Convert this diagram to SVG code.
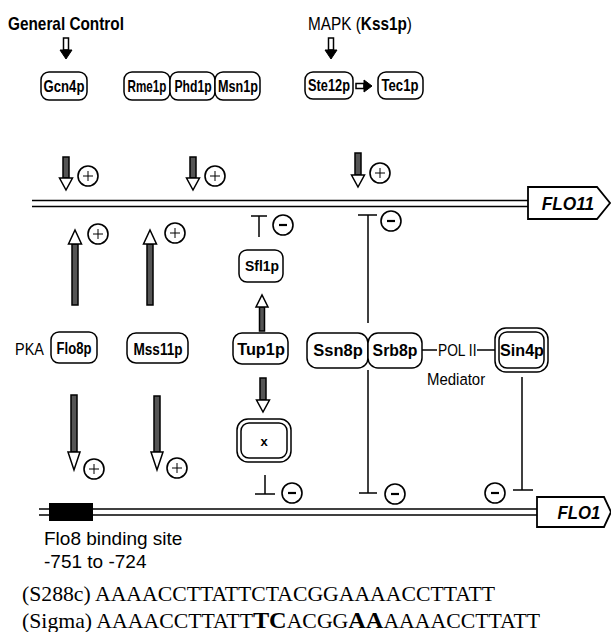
<svg xmlns="http://www.w3.org/2000/svg" width="611" height="632" viewBox="0 0 611 632">
<style>
.box{fill:#fff;stroke:#000;stroke-width:1.5}
.lbl{font-family:"Liberation Sans",Arial,sans-serif;font-size:16px;font-weight:bold;text-anchor:middle;fill:#000}
.txt{font-family:"Liberation Sans",Arial,sans-serif;font-size:17px;fill:#000}
.seq{font-family:"Liberation Serif","Times New Roman",serif;font-size:21.5px;fill:#000}
.shaft{fill:#555;stroke:#000;stroke-width:1.5}
.head{fill:#fff;stroke:#000;stroke-width:1.5;stroke-linejoin:miter}
.ln{stroke:#000;stroke-width:1.5;fill:none}
.sign{fill:#fff;stroke:#000;stroke-width:1.6}
.gene{fill:#fff;stroke:#000;stroke-width:1.8}
.gt{font-family:"Liberation Sans",Arial,sans-serif;font-size:18px;font-weight:bold;font-style:italic;text-anchor:middle}
</style>
<rect width="611" height="632" fill="#fff"/>

<!-- top labels -->
<g id="general-control"><text class="txt" transform="translate(8,30) scale(0.853,1)" style="font-size:18px;font-weight:bold">General Control</text></g>
<g id="mapk"><text class="txt" transform="translate(308,30) scale(0.852,1)" style="font-size:18px">MAPK (<tspan style="font-weight:bold">Kss1p</tspan>)</text></g>

<!-- nodes -->
<g id="gcn4p"><rect class="box" x="41" y="72" width="46" height="28" rx="8"/><text class="lbl" transform="translate(64,92) scale(0.82,1)">Gcn4p</text></g>
<g id="rme1p"><rect class="box" x="124" y="72" width="46" height="28" rx="8"/><text class="lbl" transform="translate(147,92) scale(0.73,1)">Rme1p</text></g>
<g id="phd1p"><rect class="box" x="170" y="72" width="45" height="28" rx="8"/><text class="lbl" transform="translate(193,92) scale(0.76,1)">Phd1p</text></g>
<g id="msn1p"><rect class="box" x="215" y="72" width="45" height="28" rx="8"/><text class="lbl" transform="translate(238,92) scale(0.79,1)">Msn1p</text></g>
<g id="ste12p"><rect class="box" x="305" y="72" width="48" height="27" rx="8"/><text class="lbl" transform="translate(329,91) scale(0.8,1)">Ste12p</text></g>
<g id="tec1p"><rect class="box" x="378" y="72" width="45" height="27" rx="8"/><text class="lbl" transform="translate(400,91) scale(0.82,1)">Tec1p</text></g>

<g id="flo11"><polygon class="gene" points="528,187 597,187 610,203 597,219 528,219"/><text class="gt" transform="translate(568,209.5) scale(0.96,1)">FLO11</text></g>

<g id="sfl1p"><rect class="box" x="239" y="250" width="44" height="32" rx="8"/><text class="lbl" transform="translate(262,271) scale(0.93,1)" style="font-size:15px">Sfl1p</text></g>

<g id="pka"><text class="txt" transform="translate(15,355) scale(0.85,1)">PKA</text></g>
<g id="flo8p"><rect class="box" x="51" y="332" width="46" height="31" rx="8"/><text class="lbl" transform="translate(74,354) scale(0.77,1)" style="font-size:17px">Flo8p</text></g>
<g id="mss11p"><rect class="box" x="127" y="333" width="61" height="30" rx="9"/><text class="lbl" transform="translate(158,354.5) scale(0.8,1)" style="font-size:17px">Mss11p</text></g>
<g id="tup1p"><rect class="box" x="233" y="333" width="55" height="31" rx="9"/><text class="lbl" transform="translate(261,355) scale(0.96,1)" style="font-size:17px">Tup1p</text></g>
<g id="ssn8p"><rect class="box" x="307" y="333" width="61" height="35" rx="10"/><text class="lbl" transform="translate(338,356) scale(0.97,1)" style="font-size:17px">Ssn8p</text></g>
<g id="srb8p"><rect class="box" x="368" y="333" width="54" height="35" rx="10"/><text class="lbl" transform="translate(395,356) scale(0.93,1)" style="font-size:17px">Srb8p</text></g>
<g id="pol2"><line class="ln" x1="422" y1="350" x2="437" y2="350"/><text class="txt" transform="translate(438,356) scale(0.81,1)">POL II</text><line class="ln" x1="477" y1="350" x2="495" y2="350"/><text class="txt" transform="translate(427,385) scale(0.88,1)">Mediator</text></g>
<g id="sin4p"><rect class="box" x="495" y="328" width="53" height="44" rx="11"/><rect class="box" x="499" y="332" width="45" height="36" rx="8"/><text class="lbl" transform="translate(522,356) scale(0.95,1)" style="font-size:17px">Sin4p</text></g>
<g id="x"><rect class="box" x="237" y="419" width="54" height="43" rx="11"/><rect class="box" x="241" y="423" width="46" height="35" rx="8"/><text class="lbl" x="264" y="446" style="font-size:13px">x</text></g>

<g id="flo1"><polygon class="gene" points="537,497 604,497 611,512 604,527 537,527"/><text class="gt" transform="translate(579,518.5) scale(0.93,1)">FLO1</text></g>
<g id="binding-site"><rect x="49" y="503" width="44" height="18" fill="#000"/><text class="txt" x="44" y="545" style="font-size:19px">Flo8 binding site</text><text class="txt" x="44" y="568" style="font-size:19px">-751 to -724</text></g>

<g id="sequences">
<text class="seq" x="22" y="601" textLength="473" lengthAdjust="spacingAndGlyphs">(S288c) AAAACCTTATTCTACGGAAAACCTTATT</text>
<text class="seq" x="22" y="628" textLength="518" lengthAdjust="spacingAndGlyphs">(Sigma) AAAACCTTATT<tspan style="font-weight:bold;font-size:24px">TC</tspan>ACGG<tspan style="font-weight:bold;font-size:24px">AA</tspan>AAAACCTTATT</text>
</g>

<!-- connectors -->
<g id="connectors">
<line class="ln" x1="32" y1="200.5" x2="528" y2="200.5"/>
<line class="ln" x1="32" y1="206.5" x2="528" y2="206.5"/>
<line class="ln" x1="39" y1="509" x2="537" y2="509"/>
<line class="ln" x1="39" y1="515" x2="537" y2="515"/>

<rect x="63.5" y="38" width="5" height="12" fill="#fff" stroke="#000" stroke-width="1.5"/>
<polygon points="60,50 72,50 66,59" fill="#000" stroke="#000" stroke-width="1"/>
<rect x="328.5" y="38" width="5" height="12" fill="#fff" stroke="#000" stroke-width="1.5"/>
<polygon points="325,50 337,50 331,59" fill="#000" stroke="#000" stroke-width="1"/>
<rect x="356" y="83.5" width="8" height="5" fill="#fff" stroke="#000" stroke-width="1.5"/>
<polygon points="364,80 364,92 372,86" fill="#000" stroke="#000" stroke-width="1"/>

<rect class="shaft" x="63" y="157" width="6" height="21"/><polygon class="head" points="59.5,178 72.5,178 66,190"/>
<rect class="shaft" x="190" y="157" width="6" height="21"/><polygon class="head" points="186.5,178 199.5,178 193,190"/>
<rect class="shaft" x="355" y="153" width="6" height="22"/><polygon class="head" points="351.5,175 364.5,175 358,187"/>

<rect class="shaft" x="72" y="244" width="6" height="61"/><polygon class="head" points="68.5,244 81.5,244 75,230"/>
<rect class="shaft" x="147" y="244" width="6" height="61"/><polygon class="head" points="143.5,244 156.5,244 150,230"/>

<rect class="shaft" x="259.5" y="307" width="5" height="24"/><polygon class="head" points="256,307 268,307 262,295"/>
<rect class="shaft" x="260" y="378" width="6" height="22"/><polygon class="head" points="256.5,400 269.5,400 263,412"/>

<rect class="shaft" x="71" y="395" width="6" height="57"/><polygon class="head" points="68,452 80,452 74,470"/>
<rect class="shaft" x="154" y="396" width="6" height="56"/><polygon class="head" points="151,452 163,452 157,470"/>

<line class="ln" x1="251" y1="216" x2="267" y2="216"/><line class="ln" x1="259" y1="216" x2="259" y2="237"/>
<line class="ln" x1="358" y1="215" x2="377" y2="215"/><line class="ln" x1="368" y1="215" x2="368" y2="323"/>
<line class="ln" x1="368" y1="370" x2="368" y2="493"/><line class="ln" x1="359" y1="493" x2="377" y2="493"/>
<line class="ln" x1="522" y1="377" x2="522" y2="490"/><line class="ln" x1="513" y1="490" x2="533" y2="490"/>
<line class="ln" x1="265" y1="475" x2="265" y2="494"/><line class="ln" x1="255" y1="494" x2="275" y2="494"/>

<g class="sign">
<circle cx="88" cy="176" r="10"/><circle cx="215" cy="176" r="10"/><circle cx="380" cy="173" r="10"/>
<circle cx="98" cy="234" r="10"/><circle cx="175" cy="233" r="10"/>
<circle cx="283" cy="225" r="10"/><circle cx="391" cy="221" r="10"/>
<circle cx="94" cy="469" r="10"/><circle cx="177" cy="468" r="10"/>
<circle cx="292" cy="493" r="10"/><circle cx="395" cy="494" r="10"/><circle cx="495" cy="493" r="10"/>
</g>
<g stroke="#000" stroke-width="1">
<path d="M83 176h10M88 171v10"/><path d="M210 176h10M215 171v10"/><path d="M375 173h10M380 168v10"/>
<path d="M93 234h10M98 229v10"/><path d="M170 233h10M175 228v10"/>
<path d="M89 469h10M94 464v10"/><path d="M172 468h10M177 463v10"/>
</g>
<g stroke="#000" stroke-width="2.2">
<path d="M279 225h8"/><path d="M387 221h8"/><path d="M288 493h8"/><path d="M391 494h8"/><path d="M491 493h8"/>
</g>
</g>
</svg>
